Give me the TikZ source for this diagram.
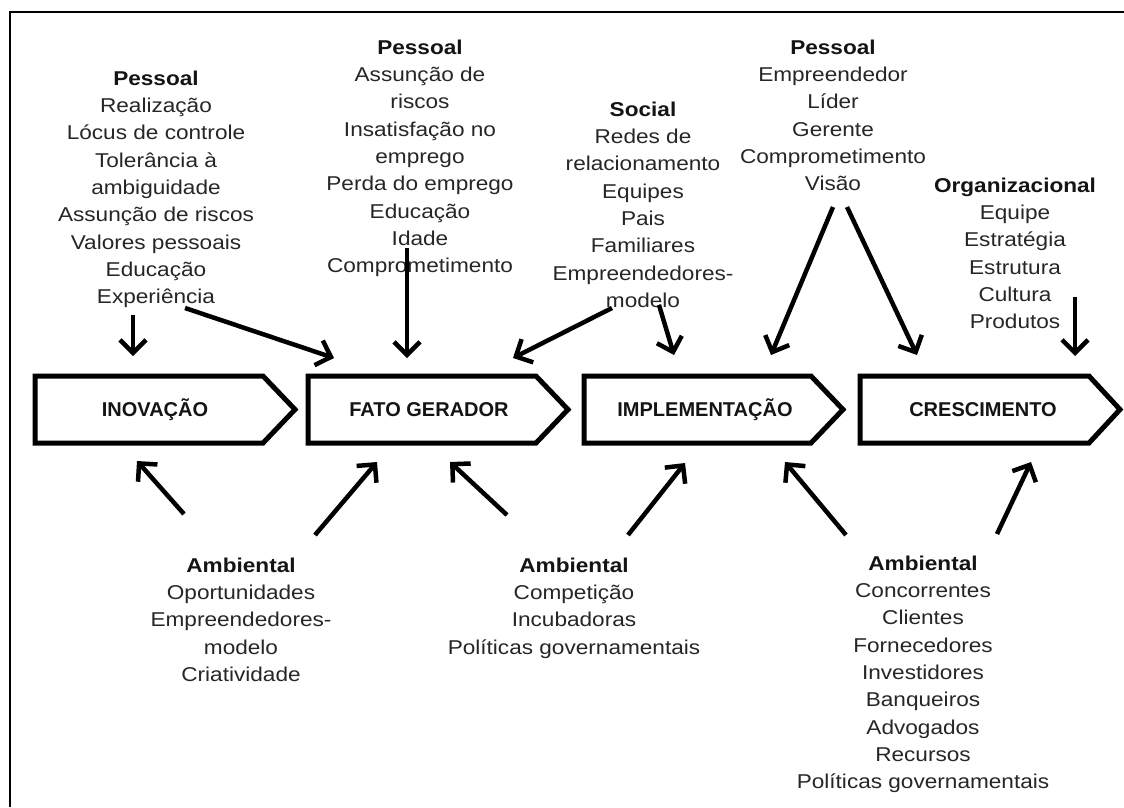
\documentclass[tikz,border=0pt]{standalone}
\usepackage{fontspec}
\setmainfont{Liberation Sans}[FakeStretch=1.13]
\newfontfamily\stagefont{Liberation Sans}[FakeStretch=1.0]
\usetikzlibrary{arrows.meta}
\definecolor{ink}{HTML}{262626}
\definecolor{headink}{HTML}{141414}
\tikzset{
  blk/.style={align=center, inner sep=0pt, anchor=north, text=ink,
    font=\fontsize{20}{27.3}\selectfont},
  stagetxt/.style={inner sep=0pt, anchor=base, text=headink,
    font=\fontsize{20}{22}\selectfont\stagefont\bfseries},
  stagebox/.style={draw=black, line width=5pt, line join=miter, fill=white},
  arr/.style={draw=black, line width=4.5pt,
    -{Straight Barb[length=13pt,width=26pt]}},
  frameline/.style={draw=black, line width=2pt}
}
\newcommand{\hd}[1]{\textcolor{headink}{\textbf{#1}}}
\begin{document}
\begin{tikzpicture}[x=1pt,y=-1pt]
\useasboundingbox (0,0) rectangle (1124,807);
\fill[white] (0,0) rectangle (1124,807);
\draw[frameline] (10,807) -- (10,12) -- (1124,12);

% stage boxes
\draw[stagebox] (35,376) -- (263,376) -- (295,409.5) -- (263,443) -- (35,443) -- cycle;
\draw[stagebox] (308,376) -- (536,376) -- (568,409.5) -- (536,443) -- (308,443) -- cycle;
\draw[stagebox] (584,376) -- (811,376) -- (843,409.5) -- (811,443) -- (584,443) -- cycle;
\draw[stagebox] (860,376) -- (1089,376) -- (1120,409.5) -- (1089,443) -- (860,443) -- cycle;
\node[stagetxt] (inov) at (155,416) {INOVAÇÃO};
\node[stagetxt] (fato) at (429,416) {FATO GERADOR};
\node[stagetxt] (impl) at (705,416) {IMPLEMENTAÇÃO};
\node[stagetxt] (cresc) at (983,416) {CRESCIMENTO};

% text blocks
\node[blk] (pA) at (156,66) {\strut\hd{Pessoal}\\Realização\\Lócus de controle\\Tolerância à\\ambiguidade\\Assunção de riscos\\Valores pessoais\\Educação\\Experiência};
\node[blk] (pB) at (420,35) {\strut\hd{Pessoal}\\Assunção de\\riscos\\Insatisfação no\\emprego\\Perda do emprego\\Educação\\Idade\\Comprometimento};
\node[blk] (sC) at (643,97) {\strut\hd{Social}\\Redes de\\relacionamento\\Equipes\\Pais\\Familiares\\Empreendedores-\\modelo};
\node[blk] (pD) at (833,35) {\strut\hd{Pessoal}\\Empreendedor\\Líder\\Gerente\\Comprometimento\\Visão};
\node[blk] (oE) at (1015,173) {\strut\hd{Organizacional}\\Equipe\\Estratégia\\Estrutura\\Cultura\\Produtos};
\node[blk] (aF) at (241,553) {\strut\hd{Ambiental}\\Oportunidades\\Empreendedores-\\modelo\\Criatividade};
\node[blk] (aG) at (574,553) {\strut\hd{Ambiental}\\Competição\\Incubadoras\\Políticas governamentais};
\node[blk] (aH) at (923,551) {\strut\hd{Ambiental}\\Concorrentes\\Clientes\\Fornecedores\\Investidores\\Banqueiros\\Advogados\\Recursos\\Políticas governamentais};

% arrow end points
\coordinate (a1s) at (133,315);  \coordinate (a1e) at (133,356);
\coordinate (a2s) at (185,308);  \coordinate (a2e) at (334,358);
\coordinate (a3s) at (407,248);  \coordinate (a3e) at (407,358);
\coordinate (a4s) at (612,308);  \coordinate (a4e) at (513,358);
\coordinate (a5s) at (659,305);  \coordinate (a5e) at (674,355);
\coordinate (a6s) at (833,207);  \coordinate (a6e) at (771,355);
\coordinate (a7s) at (847,207);  \coordinate (a7e) at (917,355);
\coordinate (a8s) at (1075,297); \coordinate (a8e) at (1075,356);
\coordinate (b1s) at (184,514);  \coordinate (b1e) at (137,461);
\coordinate (b2s) at (315,535);  \coordinate (b2e) at (377,462);
\coordinate (b3s) at (507,515);  \coordinate (b3e) at (450,462);
\coordinate (b4s) at (628,535);  \coordinate (b4e) at (685,463);
\coordinate (b5s) at (846,535);  \coordinate (b5e) at (785,462);
\coordinate (b6s) at (997,534);  \coordinate (b6e) at (1031,462);

\foreach \a in {a1,a2,a3,a4,a5,a6,a7,a8,b1,b2,b3,b4,b5,b6}
  \draw[arr] (\a s) -- (\a e);
\end{tikzpicture}
\end{document}
